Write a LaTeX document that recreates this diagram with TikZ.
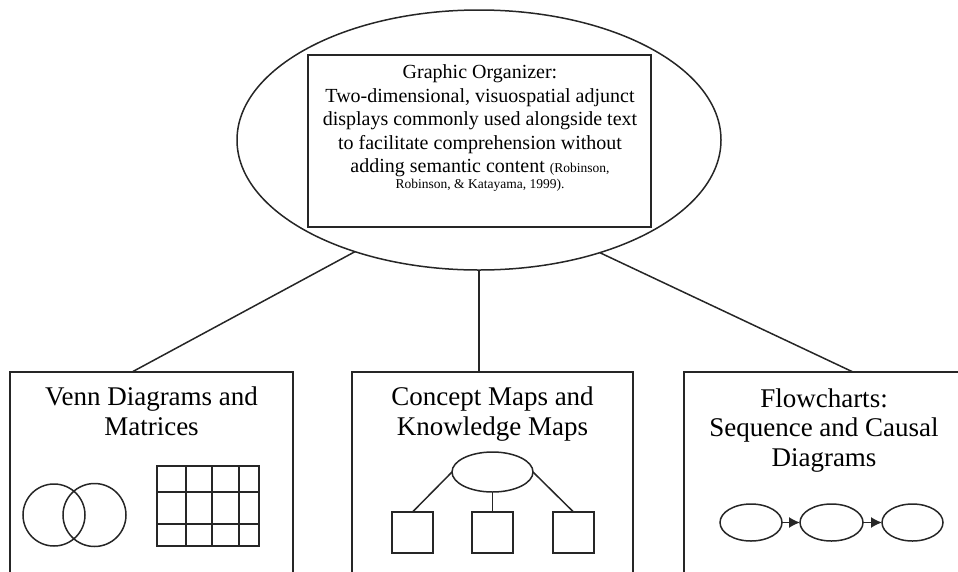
\documentclass[tikz,border=0pt]{standalone}
\usepackage{fontspec}
\setmainfont{Liberation Serif}
\usetikzlibrary{shapes.geometric,arrows.meta}

\begin{document}
\begin{tikzpicture}[x=1pt,y=-1pt,
  ink/.style={draw=black!85, line width=1.5pt},
  shell/.style={ink, inner sep=0pt, outer sep=0pt},
  catbox/.style={shell, rectangle, anchor=north west, minimum height=260pt},
  cattitle/.style={anchor=north, align=center, inner sep=0pt,
                   font=\fontsize{27}{29.5}\selectfont},
  link/.style={ink},
  flowarrow/.style={ink, -{Latex[length=11pt,width=11pt]}}
]
\useasboundingbox (0,0) rectangle (958,571);
\clip (0,0) rectangle (958,571);

% central definition
\node[shell, ellipse, minimum width=484pt, minimum height=260pt] (org) at (479,140) {};
\node[shell, rectangle, minimum width=343pt, minimum height=172pt] (def) at (479.5,141) {};
\node[anchor=north, align=center, inner sep=0pt,
      font=\fontsize{20}{23.5}\selectfont] (deftext) at (480,64.5)
  {Graphic Organizer:\\
   Two-dimensional, visuospatial adjunct\\
   displays commonly used alongside text\\
   to facilitate comprehension without\\
   adding semantic content {\fontsize{13.5}{16}\selectfont (Robinson,}\\[-7.5pt]
   {\fontsize{13.5}{16}\selectfont Robinson, \& Katayama, 1999).}};

% three categories
\node[catbox, minimum width=283pt] (venn) at (10,372) {};
\node[catbox, minimum width=281pt] (maps) at (352,372) {};
\node[catbox, minimum width=280pt] (flow) at (684,372) {};

\node[cattitle] (venntitle) at (151.5,387) {Venn Diagrams and\\Matrices};
\node[cattitle] (mapstitle) at (492.5,387) {Concept Maps and\\Knowledge Maps};
\node[cattitle] (flowtitle) at (824,388.5) {Flowcharts:\\Sequence and Causal\\Diagrams};

% connectors from the definition to the categories
\coordinate (venn-in) at (132,372);
\coordinate (flow-in) at (853,372);
\draw[link] (org.222.5) -- (venn-in);
\draw[link] (org.south) -- (org.south |- maps.north);
\draw[link] (org.317.9) -- (flow-in);

% Venn diagram
\node[shell, circle, minimum size=62pt] (setA) at (54,515) {};
\node[shell, circle, minimum size=63pt] (setB) at (94.5,515) {};

% matrix
\draw[ink] (157,466) rectangle (259,546);
\draw[ink] (186,466) -- (186,546) (212,466) -- (212,546) (239,466) -- (239,546);
\draw[ink] (157,492) -- (259,492) (157,524) -- (259,524);

% concept map
\node[shell, ellipse, minimum width=81pt, minimum height=40pt] (concept) at (492.5,472) {};
\node[shell, rectangle, minimum size=41pt] (sub1) at (412.5,532.5) {};
\node[shell, rectangle, minimum size=41pt] (sub2) at (492.5,532.5) {};
\node[shell, rectangle, minimum size=41pt] (sub3) at (573.5,532.5) {};
\draw[link] (concept.west) -- (sub1.north);
\draw[link] (concept.south) -- (sub2.north);
\draw[link] (concept.east) -- (sub3.north);

% flowchart
\node[shell, ellipse, minimum width=62pt, minimum height=37pt] (step1) at (751,522.5) {};
\node[shell, ellipse, minimum width=63pt, minimum height=37pt] (step2) at (831.5,522.5) {};
\node[shell, ellipse, minimum width=61pt, minimum height=37pt] (step3) at (912.5,522.5) {};
\draw[flowarrow] (step1.east) -- (step2.west);
\draw[flowarrow] (step2.east) -- (step3.west);
\end{tikzpicture}
\end{document}
